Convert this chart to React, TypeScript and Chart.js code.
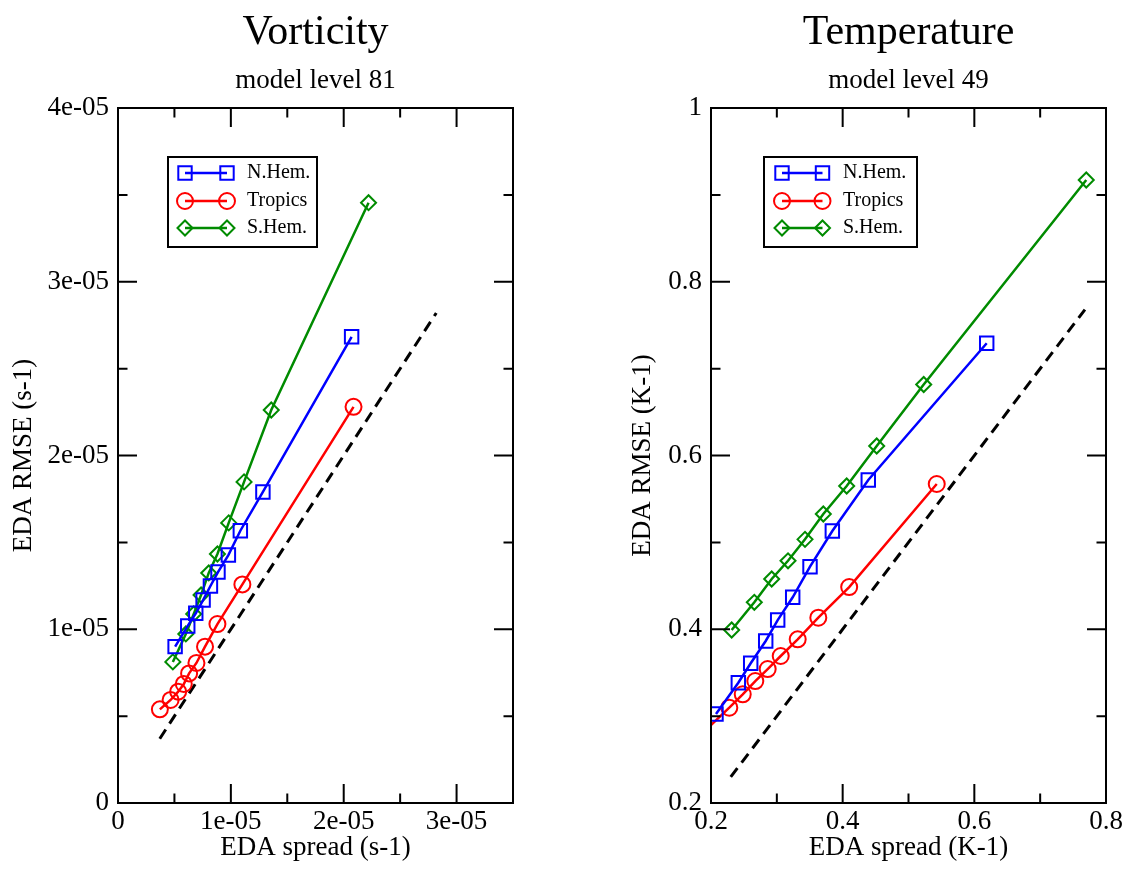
import React, { useEffect, useRef } from 'react';
import { Chart, registerables } from 'chart.js';

Chart.register(...registerables);

const FONT = '"Liberation Serif", "Times New Roman", Times, serif';
const BLUE = '#0000ff';
const RED = '#ff0000';
const GREEN = 'rgb(0,139,0)';

const seriesLabels = ['N.Hem.', 'Tropics', 'S.Hem.'];

// ---------- Vorticity (model level 81) ----------
const vortTitle = 'Vorticity';
const vortSubtitle = 'model level 81';
const vortXTitle = 'EDA spread (s-1)';
const vortYTitle = 'EDA RMSE (s-1)';
const vortNHemX = [5.06e-6, 6.18e-6, 6.89e-6, 7.54e-6, 8.19e-6, 8.86e-6, 9.78e-6, 1.084e-5, 1.284e-5, 2.07e-5];
const vortNHemY = [9.0e-6, 1.019e-5, 1.092e-5, 1.168e-5, 1.249e-5, 1.329e-5, 1.427e-5, 1.567e-5, 1.79e-5, 2.683e-5];
const vortTropX = [3.71e-6, 4.66e-6, 5.33e-6, 5.83e-6, 6.3e-6, 6.95e-6, 7.71e-6, 8.81e-6, 1.102e-5, 2.087e-5];
const vortTropY = [5.39e-6, 5.93e-6, 6.41e-6, 6.85e-6, 7.46e-6, 8.06e-6, 9.0e-6, 1.03e-5, 1.258e-5, 2.28e-5];
const vortSHemX = [4.86e-6, 6.01e-6, 6.71e-6, 7.36e-6, 8.04e-6, 8.81e-6, 9.81e-6, 1.117e-5, 1.358e-5, 2.22e-5];
const vortSHemY = [8.12e-6, 9.73e-6, 1.088e-5, 1.197e-5, 1.324e-5, 1.433e-5, 1.612e-5, 1.848e-5, 2.262e-5, 3.455e-5];
const vortRefX = [3.7e-6, 2.82e-5];
const vortRefY = [3.7e-6, 2.82e-5];
const vortXRange = [0, 3.5e-5];
const vortYRange = [0, 4e-5];
const vortXTicks = [0, 1e-5, 2e-5, 3e-5];
const vortXTickLabels = ['0', '1e-05', '2e-05', '3e-05'];
const vortXMinor = [5e-6, 1.5e-5, 2.5e-5];
const vortYTicks = [0, 1e-5, 2e-5, 3e-5, 4e-5];
const vortYTickLabels = ['0', '1e-05', '2e-05', '3e-05', '4e-05'];
const vortYMinor = [5e-6, 1.5e-5, 2.5e-5, 3.5e-5];

// ---------- Temperature (model level 49) ----------
const tempTitle = 'Temperature';
const tempSubtitle = 'model level 49';
const tempXTitle = 'EDA spread (K-1)';
const tempYTitle = 'EDA RMSE (K-1)';
const tempNHemX = [0.2076, 0.2415, 0.2603, 0.2831, 0.3013, 0.3241, 0.3504, 0.3843, 0.4389, 0.6188];
const tempNHemY = [0.3024, 0.3385, 0.3608, 0.3865, 0.4106, 0.4368, 0.472, 0.5131, 0.5718, 0.7292];
const tempTropX = [0.17, 0.2278, 0.2482, 0.2673, 0.2861, 0.3059, 0.3317, 0.363, 0.4099, 0.5429];
const tempTropY = [0.268, 0.3097, 0.3251, 0.3404, 0.3542, 0.3692, 0.3884, 0.4133, 0.4486, 0.5672];
const tempSHemX = [0.2314, 0.2658, 0.2922, 0.317, 0.3428, 0.3706, 0.4061, 0.4517, 0.5231, 0.77];
const tempSHemY = [0.3991, 0.431, 0.4578, 0.4788, 0.5035, 0.5327, 0.5649, 0.6109, 0.6817, 0.9171];
const tempRefX = [0.23, 0.768];
const tempRefY = [0.23, 0.768];
const tempXRange = [0.2, 0.8];
const tempYRange = [0.2, 1.0];
const tempXTicks = [0.2, 0.4, 0.6, 0.8];
const tempXTickLabels = ['0.2', '0.4', '0.6', '0.8'];
const tempXMinor = [0.3, 0.5, 0.7];
const tempYTicks = [0.2, 0.4, 0.6, 0.8, 1.0];
const tempYTickLabels = ['0.2', '0.4', '0.6', '0.8', '1'];
const tempYMinor = [0.3, 0.5, 0.7, 0.9];

const zip = (xs: number[], ys: number[]) => xs.map((x, i) => ({ x, y: ys[i] }));

const MAJOR_LEN = 19;
const MINOR_LEN = 9.5;

const frameTicksPlugin = {
  id: 'frameTicks',
  afterDatasetsDraw(chart: any, _args: any, opts: any) {
    const { ctx, chartArea: a } = chart;
    const xs = chart.scales.x;
    const ys = chart.scales.y;
    ctx.save();
    ctx.strokeStyle = '#000';
    ctx.lineWidth = 2;
    ctx.beginPath();
    const seg = (x1: number, y1: number, x2: number, y2: number) => {
      ctx.moveTo(x1, y1);
      ctx.lineTo(x2, y2);
    };
    const xt = (vals: number[], len: number) => {
      for (const v of vals) {
        const p = xs.getPixelForValue(v);
        seg(p, a.bottom, p, a.bottom - len);
        seg(p, a.top, p, a.top + len);
      }
    };
    const yt = (vals: number[], len: number) => {
      for (const v of vals) {
        const p = ys.getPixelForValue(v);
        seg(a.left, p, a.left + len, p);
        seg(a.right, p, a.right - len, p);
      }
    };
    xt(opts.xMajor, MAJOR_LEN);
    xt(opts.xMinor, MINOR_LEN);
    yt(opts.yMajor, MAJOR_LEN);
    yt(opts.yMinor, MINOR_LEN);
    ctx.stroke();
    ctx.strokeRect(a.left, a.top, a.right - a.left, a.bottom - a.top);
    ctx.restore();
  },
};

function drawMarker(ctx: CanvasRenderingContext2D, type: string, x: number, y: number, color: string) {
  ctx.save();
  ctx.strokeStyle = color;
  ctx.lineWidth = 2;
  ctx.beginPath();
  if (type === 'rect') {
    ctx.rect(x - 6.7, y - 6.7, 13.4, 13.4);
  } else if (type === 'circle') {
    ctx.arc(x, y, 8, 0, Math.PI * 2);
  } else {
    ctx.moveTo(x - 7.5, y);
    ctx.lineTo(x, y - 7.5);
    ctx.lineTo(x + 7.5, y);
    ctx.lineTo(x, y + 7.5);
    ctx.closePath();
  }
  ctx.stroke();
  ctx.restore();
}

const boxLegendPlugin = {
  id: 'boxLegend',
  afterDraw(chart: any, _args: any, opts: any) {
    const { ctx, chartArea: a } = chart;
    const left = a.left + opts.dx;
    const top = a.top + opts.dy;
    ctx.save();
    ctx.fillStyle = '#fff';
    ctx.fillRect(left, top, opts.width, opts.height);
    ctx.strokeStyle = '#000';
    ctx.lineWidth = 2;
    ctx.strokeRect(left, top, opts.width, opts.height);
    const rows = [16, 44, 71];
    const datasets = chart.data.datasets;
    for (let i = 0; i < 3; i++) {
      const ds = datasets[i];
      const y = top + rows[i];
      const x1 = left + opts.m1;
      const x2 = left + opts.m2;
      ctx.strokeStyle = ds.borderColor;
      ctx.lineWidth = 2.5;
      ctx.beginPath();
      ctx.moveTo(x1, y);
      ctx.lineTo(x2, y);
      ctx.stroke();
      drawMarker(ctx, ds.pointStyle, x1, y, ds.borderColor);
      drawMarker(ctx, ds.pointStyle, x2, y, ds.borderColor);
      ctx.fillStyle = '#000';
      ctx.font = `20px ${FONT}`;
      ctx.textAlign = 'left';
      ctx.textBaseline = 'middle';
      ctx.fillText(ds.label, left + opts.tx, y);
    }
    ctx.restore();
  },
};

type PanelSpec = {
  title: string;
  subtitle: string;
  xTitle: string;
  yTitle: string;
  nh: { x: number; y: number }[];
  tr: { x: number; y: number }[];
  sh: { x: number; y: number }[];
  ref: { x: number; y: number }[];
  xRange: number[];
  yRange: number[];
  xTicks: number[];
  xLabels: string[];
  xMinor: number[];
  yTicks: number[];
  yLabels: string[];
  yMinor: number[];
  yAxisWidth: number;
  rightPad: number;
  yTitlePad: number;
  legend: any;
};

function makeConfig(p: PanelSpec): any {
  const tickFont = { family: FONT, size: 27, lineHeight: 1.2 };
  const pointCommon = { pointBorderWidth: 2, pointBackgroundColor: 'rgba(0,0,0,0)', borderWidth: 2.5, showLine: true };
  const clip = { left: 1, top: 12, right: 12, bottom: 12 };
  return {
    type: 'scatter',
    data: {
      datasets: [
        { label: seriesLabels[0], data: p.nh, borderColor: BLUE, pointBorderColor: BLUE, pointStyle: 'rect', pointRadius: 9.5, clip, ...pointCommon },
        { label: seriesLabels[1], data: p.tr, borderColor: RED, pointBorderColor: RED, pointStyle: 'circle', pointRadius: 8, clip, ...pointCommon },
        { label: seriesLabels[2], data: p.sh, borderColor: GREEN, pointBorderColor: GREEN, pointStyle: 'rectRot', pointRadius: 7.5, clip, ...pointCommon },
        { label: 'y = x', data: p.ref, borderColor: '#000', borderWidth: 3, borderDash: [11, 7], pointRadius: 0, showLine: true, clip: 0 },
      ],
    },
    options: {
      animation: false,
      responsive: false,
      devicePixelRatio: 1,
      events: [],
      layout: { padding: { top: 0, left: 0, right: p.rightPad, bottom: 0 } },
      plugins: {
        legend: { display: false },
        tooltip: { enabled: false },
        title: {
          display: true,
          text: p.title,
          fullSize: false,
          color: '#000',
          font: { family: FONT, size: 42, weight: 'normal', lineHeight: 1.2 },
          padding: { top: 7.8, bottom: 4 },
        },
        subtitle: {
          display: true,
          text: p.subtitle,
          fullSize: false,
          color: '#000',
          font: { family: FONT, size: 27, weight: 'normal', lineHeight: 1.2 },
          padding: { top: 2.2, bottom: 11.2 },
        },
        frameTicks: { xMajor: p.xTicks, xMinor: p.xMinor, yMajor: p.yTicks, yMinor: p.yMinor },
        boxLegend: p.legend,
      },
      scales: {
        x: {
          type: 'linear',
          min: p.xRange[0],
          max: p.xRange[1],
          grid: { display: false, drawTicks: false },
          border: { display: false },
          afterBuildTicks: (s: any) => {
            s.ticks = p.xTicks.map((v) => ({ value: v }));
          },
          afterFit: (s: any) => {
            s.height = 68;
          },
          ticks: {
            autoSkip: false,
            maxRotation: 0,
            minRotation: 0,
            color: '#000',
            font: tickFont,
            padding: 3,
            callback: (_v: any, i: number) => p.xLabels[i],
          },
          title: {
            display: true,
            text: p.xTitle,
            color: '#000',
            font: { family: FONT, size: 27, lineHeight: 1.2 },
            padding: { top: 0, bottom: 7 },
          },
        },
        y: {
          type: 'linear',
          min: p.yRange[0],
          max: p.yRange[1],
          grid: { display: false, drawTicks: false },
          border: { display: false },
          afterBuildTicks: (s: any) => {
            s.ticks = p.yTicks.map((v) => ({ value: v }));
          },
          afterFit: (s: any) => {
            s.width = p.yAxisWidth;
          },
          ticks: {
            autoSkip: false,
            color: '#000',
            font: tickFont,
            padding: 9,
            callback: (_v: any, i: number) => p.yLabels[i],
          },
          title: {
            display: true,
            text: p.yTitle,
            color: '#000',
            font: { family: FONT, size: 27, lineHeight: 1.2 },
            padding: { top: p.yTitlePad, bottom: 0 },
          },
        },
      },
    },
    plugins: [frameTicksPlugin, boxLegendPlugin],
  };
}

const vortSpec: PanelSpec = {
  title: vortTitle,
  subtitle: vortSubtitle,
  xTitle: vortXTitle,
  yTitle: vortYTitle,
  nh: zip(vortNHemX, vortNHemY),
  tr: zip(vortTropX, vortTropY),
  sh: zip(vortSHemX, vortSHemY),
  ref: zip(vortRefX, vortRefY),
  xRange: vortXRange,
  yRange: vortYRange,
  xTicks: vortXTicks,
  xLabels: vortXTickLabels,
  xMinor: vortXMinor,
  yTicks: vortYTicks,
  yLabels: vortYTickLabels,
  yMinor: vortYMinor,
  yAxisWidth: 118,
  rightPad: 51,
  yTitlePad: 8,
  legend: { dx: 50, dy: 49, width: 149, height: 90, m1: 17, m2: 59, tx: 79 },
};

const tempSpec: PanelSpec = {
  title: tempTitle,
  subtitle: tempSubtitle,
  xTitle: tempXTitle,
  yTitle: tempYTitle,
  nh: zip(tempNHemX, tempNHemY),
  tr: zip(tempTropX, tempTropY),
  sh: zip(tempSHemX, tempSHemY),
  ref: zip(tempRefX, tempRefY),
  xRange: tempXRange,
  yRange: tempYRange,
  xTicks: tempXTicks,
  xLabels: tempXTickLabels,
  xMinor: tempXMinor,
  yTicks: tempYTicks,
  yLabels: tempYTickLabels,
  yMinor: tempYMinor,
  yAxisWidth: 147,
  rightPad: 23,
  yTitlePad: 62.8,
  legend: { dx: 53, dy: 49, width: 153, height: 90, m1: 18, m2: 58.5, tx: 79 },
};

function Panel({ spec, left, width }: { spec: PanelSpec; left: number; width: number }) {
  const ref = useRef<HTMLCanvasElement | null>(null);
  useEffect(() => {
    if (!ref.current) return;
    const chart = new Chart(ref.current, makeConfig(spec));
    return () => chart.destroy();
  }, [spec]);
  return (
    <canvas
      ref={ref}
      width={width}
      height={871}
      style={{ position: 'absolute', left, top: 0, width, height: 871 }}
    />
  );
}

export default function App() {
  return (
    <div style={{ position: 'absolute', left: 0, top: 0, width: 1129, height: 871, background: '#fff', overflow: 'hidden' }}>
      <Panel spec={vortSpec} left={0} width={564} />
      <Panel spec={tempSpec} left={564} width={565} />
    </div>
  );
}
